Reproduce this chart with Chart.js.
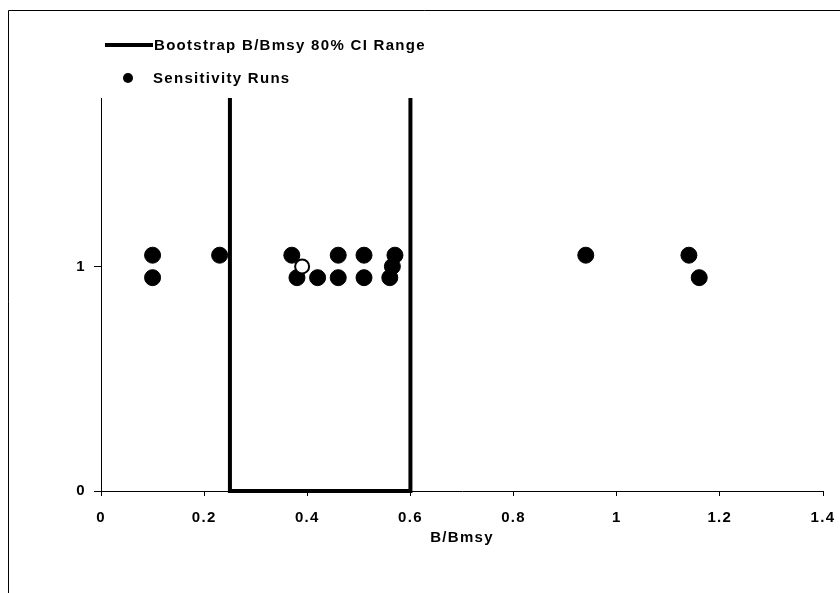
<!DOCTYPE html>
<html><head><meta charset="utf-8">
<script src="https://cdn.jsdelivr.net/npm/chart.js@4.4.1/dist/chart.umd.min.js"></script>
<style>html,body{margin:0;padding:0;background:#fff}#c{display:block}</style>
</head><body>
<div style="width:840px;height:593px"><canvas id="c" width="840" height="593"></canvas></div>
<script>
const xTickValues = [0, 0.2, 0.4, 0.6, 0.8, 1, 1.2, 1.4];
const xTickLabels = ["0", "0.2", "0.4", "0.6", "0.8", "1", "1.2", "1.4"];
const yTickValues = [0, 1];
const yTickLabels = ["0", "1"];
const ciX = [0.25, 0.25, 0.6, 0.6];
const ciY = [1.75, 0, 0, 1.75];
const runsX = [0.1, 0.1, 0.23, 0.37, 0.38, 0.42, 0.46, 0.46, 0.51, 0.51, 0.56, 0.565, 0.57, 0.94, 1.14, 1.16];
const runsY = [1.05, 0.95, 1.05, 1.05, 0.95, 0.95, 1.05, 0.95, 1.05, 0.95, 0.95, 1.0, 1.05, 1.05, 1.05, 0.95];
const openX = [0.39];
const openY = [1.0];
const seriesNames = ["Bootstrap B/Bmsy 80% CI Range", "Sensitivity Runs"];
const xTitle = "B/Bmsy";

const FONT = "'Liberation Sans', Arial, sans-serif";
const SPACING = '1.3px';

const spacingPlugin = {
  id: 'spacing',
  beforeUpdate(chart) { chart.ctx.letterSpacing = SPACING; },
  beforeDraw(chart) { chart.ctx.letterSpacing = SPACING; }
};

const framePlugin = {
  id: 'frame',
  afterDraw(chart) {
    const ctx = chart.ctx;
    ctx.save();
    ctx.letterSpacing = SPACING;
    ctx.strokeStyle = '#000';
    ctx.lineWidth = 1;
    ctx.beginPath();
    ctx.moveTo(8.5, 593); ctx.lineTo(8.5, 10.5); ctx.lineTo(840, 10.5);
    ctx.stroke();
    // legend
    ctx.font = "bold 15px " + FONT;
    ctx.fillStyle = '#000';
    ctx.textBaseline = 'middle';
    ctx.lineWidth = 4;
    ctx.beginPath();
    ctx.moveTo(105, 45); ctx.lineTo(153, 45);
    ctx.stroke();
    ctx.fillText(seriesNames[0], 154, 46);
    ctx.beginPath();
    ctx.arc(128, 78, 5, 0, Math.PI * 2);
    ctx.fill();
    ctx.fillText(seriesNames[1], 153, 79);
    ctx.restore();
  }
};

new Chart(document.getElementById('c'), {
  type: 'scatter',
  data: {
    datasets: [
      {
        label: seriesNames[0],
        data: ciX.map((x, i) => ({x, y: ciY[i]})),
        showLine: true,
        borderColor: '#000',
        borderWidth: 4,
        pointRadius: 0,
        fill: false,
        clip: false,
        order: 2
      },
      {
        label: seriesNames[1],
        data: runsX.map((x, i) => ({x, y: runsY[i]})),
        backgroundColor: '#000',
        borderColor: '#000',
        borderWidth: 1,
        pointRadius: 8,
        clip: false,
        order: 1
      },
      {
        label: 'open',
        data: openX.map((x, i) => ({x, y: openY[i]})),
        backgroundColor: '#fff',
        borderColor: '#000',
        borderWidth: 2,
        pointRadius: 7,
        clip: false,
        order: 0
      }
    ]
  },
  options: {
    responsive: false,
    animation: false,
    layout: { padding: { left: 8, right: 17, top: 98, bottom: 46 } },
    plugins: { legend: { display: false }, tooltip: { enabled: false } },
    scales: {
      x: {
        type: 'linear',
        min: 0, max: 1.4,
        afterBuildTicks: s => { s.ticks = xTickValues.map(v => ({value: v})); },
        afterFit: s => { s.height = 56; s.paddingLeft = 0; s.paddingRight = 0; },
        ticks: {
          callback: (v) => { const i = xTickValues.findIndex(t => Math.abs(t - v) < 1e-9); return i >= 0 ? xTickLabels[i] : ''; },
          color: '#000', font: { family: FONT, size: 15, weight: 'bold' }, padding: 13, maxRotation: 0
        },
        grid: { drawOnChartArea: false, drawTicks: true, tickLength: 5, color: '#000' },
        border: { color: '#000', width: 1 },
        title: { display: true, text: xTitle, color: '#000', font: { family: FONT, size: 15, weight: 'bold' }, padding: 0 }
      },
      y: {
        type: 'linear',
        min: 0, max: 1.75,
        afterBuildTicks: s => { s.ticks = yTickValues.map(v => ({value: v})); },
        afterFit: s => { s.width = 93; s.paddingTop = 0; s.paddingBottom = 0; },
        ticks: {
          callback: (v) => { const i = yTickValues.indexOf(v); return i >= 0 ? yTickLabels[i] : ''; },
          color: '#000', font: { family: FONT, size: 15, weight: 'bold' }, padding: 8
        },
        grid: { drawOnChartArea: false, drawTicks: true, tickLength: 7, color: '#000' },
        border: { color: '#000', width: 1 }
      }
    }
  },
  plugins: [spacingPlugin, framePlugin]
});
</script>
</body></html>
